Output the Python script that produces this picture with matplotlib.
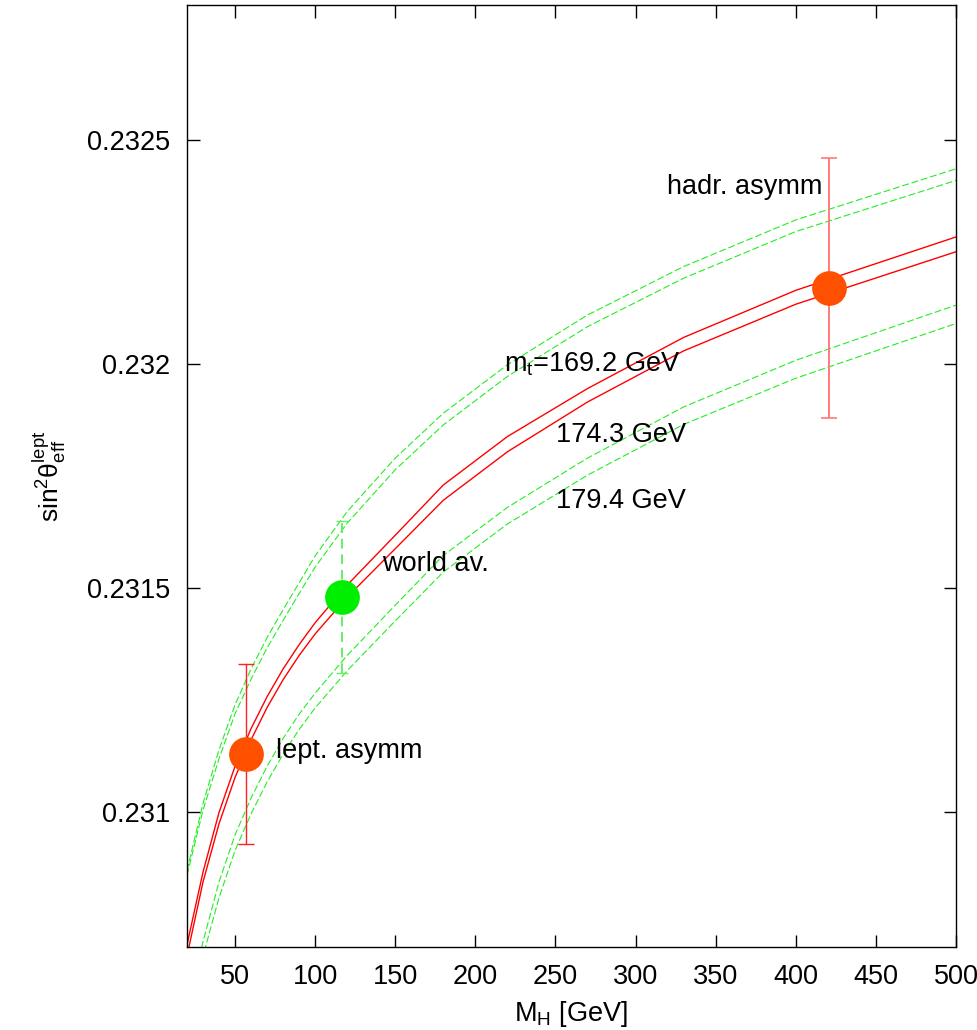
import numpy as np
import matplotlib
matplotlib.use("Agg")
import matplotlib.pyplot as plt

plt.rcParams["font.family"] = ["Liberation Sans", "DejaVu Sans"]
plt.rcParams["mathtext.fontset"] = "custom"
plt.rcParams["mathtext.rm"] = "Liberation Sans"
plt.rcParams["mathtext.it"] = "Liberation Sans"

# ── Data ──────────────────────────────────────────────────────────────────────
mh = [20, 30, 40, 50, 60, 70, 80, 90, 100, 120, 150, 180, 220, 270, 330, 400, 500]

# mt = 174.3 GeV band (red, solid)
mid_hi = [0.230705, 0.230867, 0.231000, 0.231103, 0.231187, 0.231258, 0.231320, 0.231374,
          0.231423, 0.231507, 0.231618, 0.231730, 0.231838, 0.231945, 0.232059, 0.232164, 0.232283]
mid_lo = [0.230680, 0.230845, 0.230975, 0.231078, 0.231162, 0.231234, 0.231296, 0.231350,
          0.231398, 0.231480, 0.231588, 0.231696, 0.231804, 0.231915, 0.232029, 0.232133, 0.232250]

# mt = 169.2 GeV band (green, dashed)
low_mt_hi = [0.230870, 0.231020, 0.231140, 0.231240, 0.231320, 0.231390, 0.231452, 0.231512,
             0.231572, 0.231671, 0.231790, 0.231890, 0.231998, 0.232109, 0.232217, 0.232321, 0.232435]
low_mt_lo = [0.230860, 0.231005, 0.231120, 0.231220, 0.231297, 0.231367, 0.231428, 0.231488,
             0.231547, 0.231645, 0.231764, 0.231864, 0.231972, 0.232083, 0.232191, 0.232295, 0.232409]

# mt = 179.4 GeV band (green, dashed)
high_mt_hi = [0.230550, 0.230712, 0.230845, 0.230950, 0.231032, 0.231103, 0.231165, 0.231219,
              0.231266, 0.231350, 0.231462, 0.231573, 0.231680, 0.231790, 0.231904, 0.232008, 0.232131]
high_mt_lo = [0.230520, 0.230680, 0.230810, 0.230915, 0.230997, 0.231068, 0.231130, 0.231185,
              0.231233, 0.231316, 0.231427, 0.231536, 0.231643, 0.231752, 0.231865, 0.231968, 0.232090]

# measurements
meas_names = ["lept. asymm", "world av.", "hadr. asymm"]
meas_mh = [57, 117, 421]
meas_s2w = [0.23113, 0.23148, 0.23217]
meas_err = [0.00020, 0.00017, 0.00029]

xticks = [50, 100, 150, 200, 250, 300, 350, 400, 450, 500]
yticks = [0.231, 0.2315, 0.232, 0.2325]
ytick_labels = ["0.231", "0.2315", "0.232", "0.2325"]

# ── Figure ────────────────────────────────────────────────────────────────────
fig = plt.figure(figsize=(9.77, 10.30), dpi=100)
ax = fig.add_axes([0.1914, 0.0806, 0.7871, 0.9145])

FS = 19.5
GREEN = "#22ee22"
dash = dict(linestyle=(0, (6.25, 2.5)), linewidth=0.8, color=GREEN)

ax.plot(mh, mid_hi, color="#ff0000", lw=1.0)
ax.plot(mh, mid_lo, color="#ff0000", lw=1.0)
for band in (low_mt_hi, low_mt_lo, high_mt_hi, high_mt_lo):
    ax.plot(mh, band, **dash)

# error bars
ax.errorbar(meas_mh[0], meas_s2w[0], yerr=meas_err[0], fmt="none",
            ecolor="#ff2020", elinewidth=1.0, capsize=6, capthick=1.0, zorder=4)
eb = ax.errorbar(meas_mh[1], meas_s2w[1], yerr=meas_err[1], fmt="none",
                 ecolor="#66ee66", elinewidth=1.4, capsize=4, capthick=1.0, zorder=4)
eb[2][0].set_linestyle((0, (5, 3)))
ax.errorbar(meas_mh[2], meas_s2w[2], yerr=meas_err[2], fmt="none",
            ecolor="#ff7a7a", elinewidth=1.4, capsize=6, capthick=1.2, zorder=4)

# markers
ax.plot(meas_mh[0], meas_s2w[0], "o", ms=25, color="#ff5000", mec="none", zorder=5)
ax.plot(meas_mh[1], meas_s2w[1], "o", ms=25, color="#00ee00", mec="none", zorder=5)
ax.plot(meas_mh[2], meas_s2w[2], "o", ms=25, color="#ff5000", mec="none", zorder=5)

# labels
ax.text(75.5, 0.231121, meas_names[0], fontsize=FS, va="baseline")
ax.text(142, 0.231539, meas_names[1], fontsize=FS, va="baseline")
ax.text(319.7, 0.232378, meas_names[2], fontsize=FS, va="baseline")
ax.text(217.8, 0.231983, r"$\mathregular{m_t}$=169.2 GeV", fontsize=FS, va="baseline")
ax.text(250.5, 0.231826, "174.3 GeV", fontsize=FS, va="baseline")
ax.text(250.5, 0.231678, "179.4 GeV", fontsize=FS, va="baseline")

ax.set_xlim(20, 500)
ax.set_ylim(0.2307, 0.2328)
ax.set_xticks(xticks)
ax.set_yticks(yticks)
ax.set_yticklabels(ytick_labels)
ax.tick_params(direction="in", length=9, width=1.0, labelsize=FS,
               top=True, right=True, pad=12)
for s in ax.spines.values():
    s.set_linewidth(1.0)

ax.set_xlabel(r"$\mathregular{M_H}$ [GeV]", fontsize=FS, labelpad=7)
ax.set_ylabel(r"$\mathregular{sin^2\theta_{eff}^{lept}}$", fontsize=19, labelpad=14)

fig.savefig("out.png", dpi=100)
